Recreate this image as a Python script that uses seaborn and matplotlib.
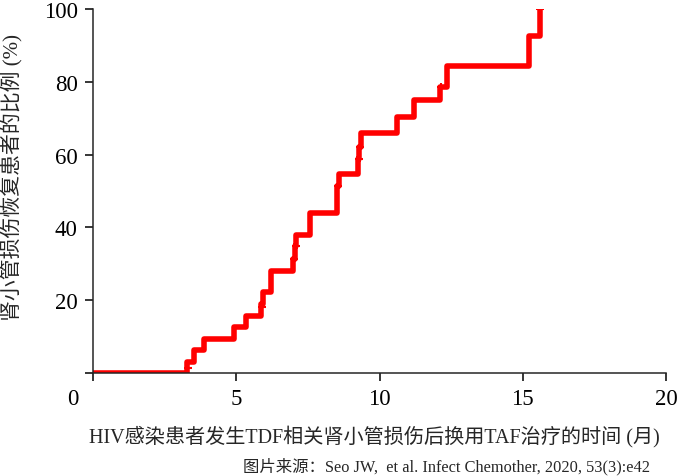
import numpy as np
import pandas as pd
import seaborn as sns
import matplotlib.pyplot as plt
import matplotlib.transforms as mtransforms

# step curve: months after switch, cumulative % recovered
months = [0, 3.27, 3.53, 3.86, 4.91, 5.34, 5.86, 5.95, 6.21, 6.99, 7.04, 7.10,
          7.57, 8.53, 8.58, 9.26, 9.30, 9.35, 10.62, 11.19, 12.11, 12.35, 15.23, 15.60]
recovered = [0, 3.0, 6.4, 9.4, 12.6, 15.6, 19.0, 22.2, 28.0, 31.2, 34.8, 37.8,
             44.0, 51.3, 54.7, 58.7, 62.0, 65.8, 70.4, 75.0, 78.7, 84.4, 92.5, 100.0]

# censor marks seen on the curve
cens_months = [3.30, 5.90, 7.02, 7.07, 8.55, 9.28, 9.33, 12.13, 15.60]
cens_values = [1.5, 18.0, 31.2, 34.8, 51.3, 58.7, 62.0, 78.7, 100.0]

xticks = [0, 5, 10, 15, 20]
yticks = [0, 20, 40, 60, 80, 100]
ytick_labels = ['', '20', '40', '60', '80', '100']

xlabel = 'HIV感染患者发生TDF相关肾小管损伤后换用TAF治疗的时间 (月)'
ylabel = '肾小管损伤恢复患者的比例 (%)'
source = '图片来源：Seo JW,  et al. Infect Chemother, 2020, 53(3):e42'

sns.set_style('ticks')
plt.rcParams['font.family'] = ['Liberation Serif', 'Noto Sans CJK SC', 'DejaVu Sans']
plt.rcParams['axes.linewidth'] = 1.1

curve = pd.DataFrame({'month': months, 'pct': recovered})
cens = pd.DataFrame({'month': cens_months, 'pct': cens_values})

fig = plt.figure(figsize=(6.77, 4.77), dpi=100)
ax = fig.add_axes([93 / 677, 1 - 374 / 477, 573 / 677, 364 / 477])

sns.lineplot(data=curve, x='month', y='pct', ax=ax, estimator=None, sort=False,
             drawstyle='steps-post', color='#ff0000', linewidth=4,
             solid_capstyle='butt')
sns.scatterplot(data=cens, x='month', y='pct', ax=ax, marker='+', s=30,
                color='#ff0000', linewidth=1.5)

ax.set_xlim(0, 20)
ax.set_ylim(0, 100)
ax.set_xticks(xticks)
ax.set_yticks(yticks)
ax.set_yticklabels(ytick_labels)
ax.tick_params(axis='both', labelsize=16.5, length=6, width=1.1, color='black',
               labelcolor='black')
ax.tick_params(axis='y', pad=5)
ax.tick_params(axis='x', pad=5)

# the origin "0" sits left of the corner
first = ax.get_xticklabels()[0]
first.set_transform(first.get_transform() +
                    mtransforms.ScaledTranslation(-0.2, 0, fig.dpi_scale_trans))

sns.despine(ax=ax)

ax.set_xlabel(xlabel, fontsize=14.5, va='center', ha='center')
ax.xaxis.set_label_coords(0.491, -0.173)
ax.set_ylabel(ylabel, fontsize=15, va='center', ha='center')
ax.yaxis.set_label_coords(-0.141, 0.541)

fig.text(650 / 677, 1 - 467 / 477, source, fontsize=11.8, ha='right', va='center')

fig.savefig('out.png', dpi=100)
